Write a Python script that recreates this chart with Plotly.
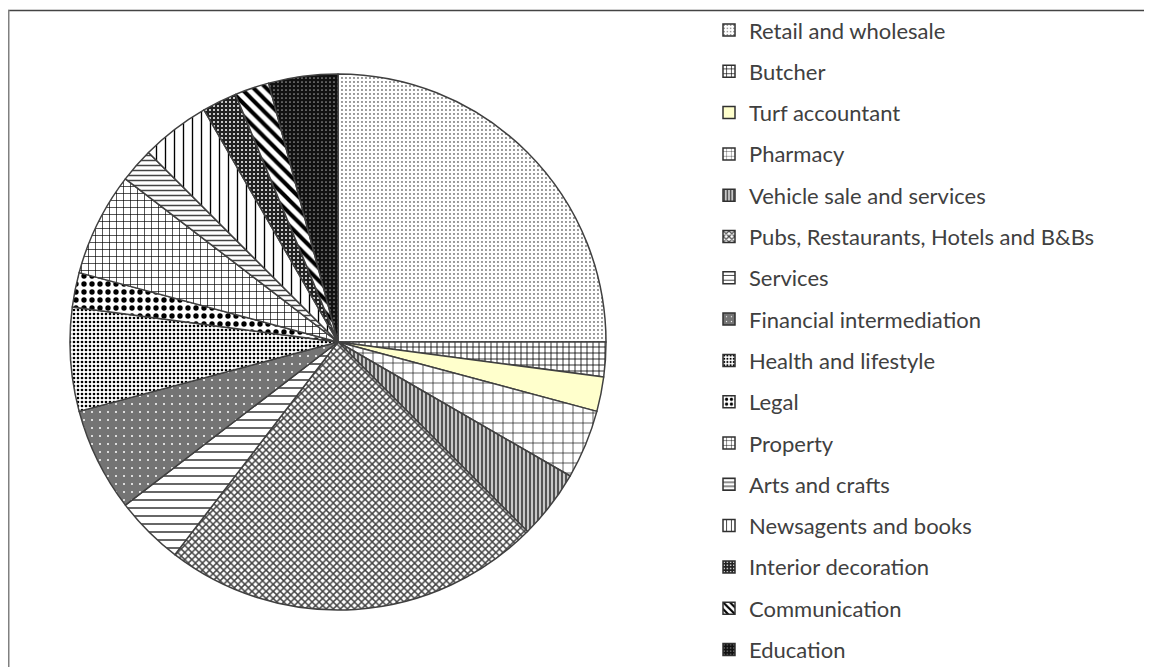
import plotly.graph_objects as go

categories = [
    "Retail and wholesale", "Butcher", "Turf accountant", "Pharmacy",
    "Vehicle sale and services", "Pubs, Restaurants, Hotels and B&Bs",
    "Services", "Financial intermediation", "Health and lifestyle", "Legal",
    "Property", "Arts and crafts", "Newsagents and books",
    "Interior decoration", "Communication", "Education",
]
counts = [12, 1, 1, 2, 2, 11, 2, 3, 3, 1, 3, 1, 2, 1, 1, 2]

# styling (pattern per slice)
shapes = [".", "+", "", "+", "|", "x", "-", ".", ".", ".", "+", "-", "|", ".", "\\", "."]
fgs = ["#000", "#000", "#000", "#000", "#222", "#444", "#000", "#fff", "#000", "#000",
       "#000", "#444", "#000", "#fff", "#000", "#999"]
bgs = ["#fff", "#fff", "#FFFFCC", "#fff", "#c8c8c8", "#fff", "#fff", "#747474", "#fff", "#fff",
       "#fff", "#fff", "#fff", "#222", "#fff", "#111"]
sizes = [4, 6, 8, 10, 4, 5, 8, 8, 4, 8, 7, 5, 9, 4, 9, 4]
solid = [0.1, 0.25, 0.3, 0.12, 0.35, 0.5, 0.15, 0.05, 0.35, 0.35, 0.18, 0.3, 0.15, 0.2, 0.45, 0.15]

W, H = 1152, 667
OFF = 8  # page body margin offset
cx, cy, r = 338 - OFF, 342 - OFF, 268

fig = go.Figure()
fig.add_trace(go.Pie(
    labels=categories, values=counts, sort=False, direction="clockwise",
    rotation=0, textinfo="none", showlegend=False, hoverinfo="label+value+percent",
    domain=dict(x=[(cx - r) / W, (cx + r) / W], y=[1 - (cy + r) / H, 1 - (cy - r) / H]),
    marker=dict(
        colors=bgs,
        line=dict(color="#404040", width=1.5),
        pattern=dict(shape=shapes, fgcolor=fgs, bgcolor=bgs, size=sizes,
                     solidity=solid, fillmode="replace"),
    ),
))

# legend proxies
for i, name in enumerate(categories):
    fig.add_trace(go.Bar(
        x=[None], y=[None], name=name, legendgroup="g%d" % i, showlegend=True,
        marker=dict(color=bgs[i], line=dict(color="#303030", width=1.5),
                    pattern=dict(shape=shapes[i], fgcolor=fgs[i], bgcolor=bgs[i],
                                 size=min(sizes[i], 6), solidity=solid[i], fillmode="replace")),
        hoverinfo="skip",
    ))

fig.update_layout(
    width=W, height=H, template="none",
    paper_bgcolor="white", plot_bgcolor="white",
    margin=dict(l=0, r=0, t=0, b=0),
    xaxis=dict(visible=False, domain=[0.995, 1.0]),
    yaxis=dict(visible=False, domain=[0.0, 0.005]),
    legend=dict(
        x=701 / W, y=1 - 1.2 / H, xanchor="left", yanchor="top",
        font=dict(family="Lato", size=22, color="#404040"),
        tracegroupgap=9.7, itemwidth=30, bgcolor="rgba(0,0,0,0)",
        traceorder="grouped",
    ),
    shapes=[
        dict(type="line", xref="paper", yref="paper", x0=0, x1=1,
             y0=1 - (10.5 - OFF) / H, y1=1 - (10.5 - OFF) / H,
             line=dict(color="#444", width=1.5)),
        dict(type="line", xref="paper", yref="paper", x0=0.5 / W, x1=0.5 / W,
             y0=0, y1=1 - (10 - OFF) / H,
             line=dict(color="#808080", width=2)),
    ],
)

fig.write_html("out.html")
